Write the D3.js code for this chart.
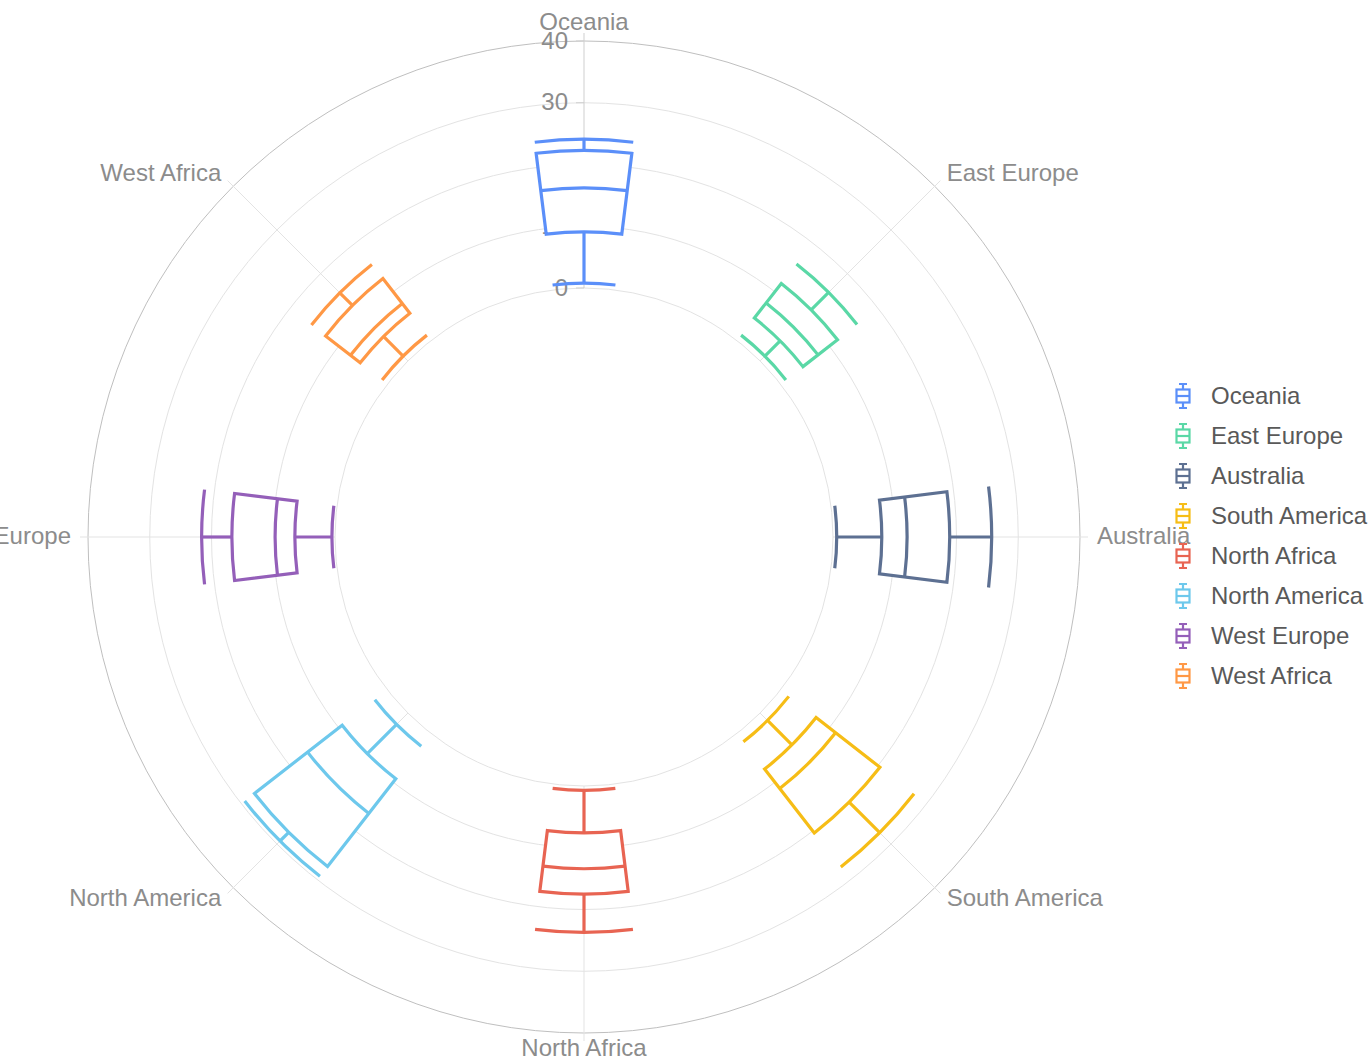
<!DOCTYPE html>
<html>
<head>
<meta charset="utf-8">
<script src="https://cdn.jsdelivr.net/npm/d3@7"></script>
<style>
  html, body { margin: 0; padding: 0; background: #fff; }
  svg { display: block; font-family: "Liberation Sans", Arial, Helvetica, sans-serif; }
</style>
</head>
<body>
<svg id="chart" width="1369" height="1060"></svg>
<script>
'use strict';

const categories = ['Oceania', 'East Europe', 'Australia', 'South America',
    'North Africa', 'North America', 'West Europe', 'West Africa'];
const lows    = [0.8, 1.1, 0.6, 1.7, 0.7, 2.6, 0.5, 1.1];
const q1s     = [9.1, 4.6, 7.9, 7.3, 7.6, 9.3, 6.5, 5.6];
const medians = [16.2, 7.7, 12.0, 11.3, 13.4, 16.4, 9.7, 7.6];
const q3s     = [22.3, 11.7, 18.9, 20.4, 17.5, 27.3, 16.7, 12.7];
const highs   = [24.1, 15.7, 25.7, 27.4, 23.7, 29.3, 21.6, 15.6];
const colors  = ['#5B8FF9', '#5AD8A6', '#5D7092', '#F6BD16',
    '#E86452', '#6DC8EC', '#945FB9', '#FF9845'];
const radiusTicks = [0, 10, 20, 30, 40];

const CX = 584;
const CY = 537;
const INNER = 249;
const OUTER = 496;
const TICK = 8;
const LABEL_GAP = 17;
const BOX_RATIO = 0.316; // share of the angular step taken by one box

const svg = d3.select('#chart');

const data = categories.map((name, i) => ({
    name: name,
    low: lows[i], q1: q1s[i], median: medians[i], q3: q3s[i], high: highs[i],
    color: colors[i]
}));

const angle = d3.scalePoint()
    .domain(categories)
    .range([0, 2 * Math.PI * (categories.length - 1) / categories.length]);

const radius = d3.scaleLinear()
    .domain([0, 40])
    .range([INNER, OUTER]);

const halfWidth = angle.step() * BOX_RATIO / 2;

// polar -> screen, angle clockwise from 12 o'clock
const px = (r, a) => CX + r * Math.sin(a);
const py = (r, a) => CY - r * Math.cos(a);

const g = svg.append('g');

// grid circles
g.selectAll('.grid')
    .data(radiusTicks)
    .enter()
    .append('circle')
    .attr('cx', CX)
    .attr('cy', CY)
    .attr('r', (d) => radius(d))
    .attr('fill', 'none')
    .attr('stroke', (d, i) => i === radiusTicks.length - 1 ? '#bfbfbf' : '#e3e3e3')
    .attr('stroke-width', 1);

// radial split lines
g.selectAll('.spoke')
    .data(categories)
    .enter()
    .append('line')
    .attr('x1', (d) => px(INNER, angle(d)))
    .attr('y1', (d) => py(INNER, angle(d)))
    .attr('x2', (d) => px(OUTER + TICK, angle(d)))
    .attr('y2', (d) => py(OUTER + TICK, angle(d)))
    .attr('stroke', (d, i) => i === 0 ? '#cfcfcf' : '#e3e3e3')
    .attr('stroke-width', 1);

// radius axis ticks + labels
g.selectAll('.rtick')
    .data(radiusTicks)
    .enter()
    .append('line')
    .attr('x1', CX - TICK)
    .attr('x2', CX)
    .attr('y1', (d) => CY - radius(d))
    .attr('y2', (d) => CY - radius(d))
    .attr('stroke', '#cfcfcf');

g.selectAll('.rlabel')
    .data(radiusTicks)
    .enter()
    .append('text')
    .attr('x', CX - TICK - 8)
    .attr('y', (d) => CY - radius(d) - 1)
    .attr('text-anchor', 'end')
    .attr('dominant-baseline', 'central')
    .attr('font-size', 24)
    .attr('fill', '#8c8c8c')
    .text((d) => d);

// angle labels
g.selectAll('.alabel')
    .data(categories)
    .enter()
    .append('text')
    .attr('x', (d) => px(OUTER + LABEL_GAP, angle(d)))
    .attr('y', (d) => py(OUTER + LABEL_GAP, angle(d)) - (Math.abs(Math.sin(angle(d))) < 0.01 ? 3 : 2))
    .attr('text-anchor', (d) => {
        const s = Math.sin(angle(d));
        return s > 0.01 ? 'start' : (s < -0.01 ? 'end' : 'middle');
    })
    .attr('dominant-baseline', 'central')
    .attr('font-size', 24)
    .attr('fill', '#8c8c8c')
    .text((d) => d);

// boxes
const arcPath = (r, a) => {
    const p = d3.path();
    p.moveTo(px(r, a - halfWidth), py(r, a - halfWidth));
    p.arc(CX, CY, r, a - halfWidth - Math.PI / 2, a + halfWidth - Math.PI / 2);
    return p.toString();
};
const radialPath = (r0, r1, a) => {
    const p = d3.path();
    p.moveTo(px(r0, a), py(r0, a));
    p.lineTo(px(r1, a), py(r1, a));
    return p.toString();
};
const boxArc = d3.arc();

const boxes = g.selectAll('.box')
    .data(data)
    .enter()
    .append('g')
    .attr('class', 'box')
    .attr('fill', 'none')
    .attr('stroke', (d) => d.color)
    .attr('stroke-width', 3.2)
    .attr('stroke-linejoin', 'miter');

boxes.append('path')
    .attr('d', (d) => radialPath(radius(d.low), radius(d.q1), angle(d.name)));
boxes.append('path')
    .attr('d', (d) => radialPath(radius(d.q3), radius(d.high), angle(d.name)));
boxes.append('path')
    .attr('d', (d) => arcPath(radius(d.low), angle(d.name)));
boxes.append('path')
    .attr('d', (d) => arcPath(radius(d.high), angle(d.name)));
boxes.append('path')
    .attr('fill', '#fff')
    .attr('d', (d) => boxArc({
        innerRadius: radius(d.q1),
        outerRadius: radius(d.q3),
        startAngle: angle(d.name) - halfWidth,
        endAngle: angle(d.name) + halfWidth
    }))
    .attr('transform', 'translate(' + CX + ',' + CY + ')');
boxes.append('path')
    .attr('d', (d) => arcPath(radius(d.median), angle(d.name)));

// legend
const legendY = d3.scalePoint()
    .domain(categories)
    .range([396, 676]);

const legend = svg.append('g')
    .selectAll('.item')
    .data(data)
    .enter()
    .append('g')
    .attr('transform', (d) => 'translate(1183,' + legendY(d.name) + ')');

legend.append('path')
    .attr('d', 'M-4,-12H4M0,-12V-6M0,6V12M-4,12H4')
    .attr('fill', 'none')
    .attr('stroke', (d) => d.color)
    .attr('stroke-width', 2.2);
legend.append('rect')
    .attr('x', -6.5)
    .attr('y', -6.5)
    .attr('width', 13)
    .attr('height', 13)
    .attr('fill', '#fff')
    .attr('stroke', (d) => d.color)
    .attr('stroke-width', 2.2);
legend.append('line')
    .attr('x1', -6.5)
    .attr('x2', 6.5)
    .attr('stroke', (d) => d.color)
    .attr('stroke-width', 2.2);

legend.append('text')
    .attr('x', 28)
    .attr('y', -1)
    .attr('dominant-baseline', 'central')
    .attr('font-size', 24)
    .attr('fill', '#595959')
    .text((d) => d.name);
</script>
</body>
</html>
